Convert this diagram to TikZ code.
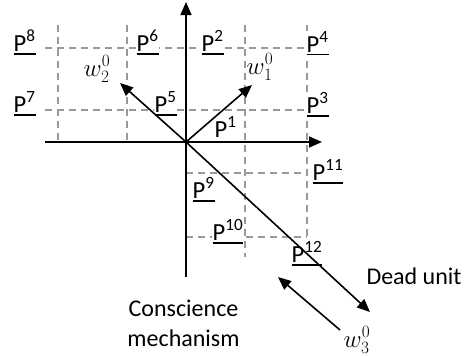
\documentclass[tikz,border=0pt]{standalone}
\usepackage{fontspec}
\setmainfont{Carlito}
\usetikzlibrary{arrows.meta}
\newcommand{\plab}[1]{\setbox0=\hbox{P\textsuperscript{#1}}\rlap{\rule[-3.5pt]{\wd0}{1.8pt}}\box0}
\begin{document}
\begin{tikzpicture}[x=10pt,y=-10pt,
  axis/.style={line width=1.6pt,-{Triangle[length=13pt,width=11pt]}},
  gridline/.style={dash pattern=on 7pt off 5pt,gray!80,line width=1.5pt},
  vec/.style={line width=1.6pt,-{Triangle[length=13pt,width=11pt]}},
  plabel/.style={anchor=base west,fill=white,inner sep=0.5pt,font=\fontsize{24.5}{28}\selectfont},
  wlabel/.style={font=\fontsize{26}{30}\selectfont},
  txt/.style={font=\fontsize{24}{30}\selectfont,align=center}]
\useasboundingbox (0,0) rectangle (46.6,35.6);
% dashed grid
\foreach \y in {4.8,11.0} \draw[gridline] (4.5,\y) -- (30.7,\y);
\foreach \x in {5.8,12.7} \draw[gridline] (\x,2.5) -- (\x,14.2);
\draw[gridline] (24.5,2.5) -- (24.5,25.7);
\draw[gridline] (30.7,2.5) -- (30.7,25.0);
\foreach \y in {17.3,23.7} \draw[gridline] (18.6,\y) -- (30.7,\y);
% points
\node[plabel] (p8) at (1.3,5.1) {\plab{8}};
\node[plabel] (p6) at (13.6,5.1) {\plab{6}};
\node[plabel] (p2) at (20.1,5.1) {\plab{2}};
\node[plabel] (p4) at (30.6,5.2) {\plab{4}};
\node[plabel] (p7) at (1.3,11.2) {\plab{7}};
\node[plabel] (p5) at (15.4,11.2) {\plab{5}};
\node[plabel] (p3) at (30.6,11.3) {\plab{3}};
\node[plabel] (p1) at (21.4,13.7) {P\textsuperscript{1}};
\node[plabel] (p11) at (31.2,18.0) {\plab{11}};
\node[plabel] (p9) at (19.2,19.8) {\plab{9}};
\node[plabel] (p10) at (21.2,24.0) {\plab{10}};
\node[plabel] (p12) at (29.1,26.2) {\plab{12}};
% axes
\coordinate (O) at (18.6,14.2);
\coordinate (ytop) at (18.6,0.2);
\coordinate (ybot) at (18.6,27.7);
\coordinate (xleft) at (4.5,14.2);
\coordinate (xright) at (32.2,14.2);
\draw[axis] (ybot) -- (ytop);
\draw[axis] (xleft) -- (xright);
% weight vectors
\coordinate (w1) at (25.2,8.5);
\coordinate (w2) at (12.0,8.3);
\coordinate (w3) at (37.0,31.2);
\draw[vec] (O) -- (w1);
\draw[vec] (O) -- (w2);
\draw[vec] (O) -- (w3);
\node[wlabel] (lw1) at (26.0,6.7) {$w_1^0$};
\node[wlabel] (lw2) at (9.7,6.9) {$w_2^0$};
\node[wlabel] (lw3) at (35.7,34.0) {$w_3^0$};
% conscience
\coordinate (cs) at (34.0,33.0);
\coordinate (ce) at (27.8,27.7);
\draw[vec] (cs) -- (ce);
\node[txt,anchor=base] (dead) at (41.4,28.4) {Dead unit};
\node[txt] (consc) at (18.35,32.3) {Conscience\\mechanism};
\end{tikzpicture}
\end{document}
